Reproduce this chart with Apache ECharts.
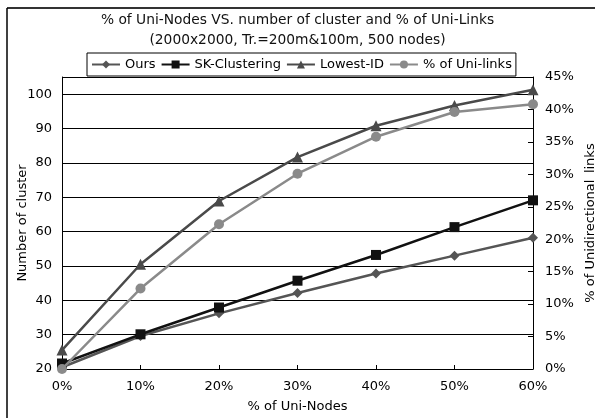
<!DOCTYPE html>
<html>
<head>
<meta charset="utf-8">
<script src="https://cdn.jsdelivr.net/npm/echarts@6/dist/echarts.min.js"></script>
<style>
html,body{margin:0;padding:0;background:#fff;}
#chart{width:595px;height:418px;}
</style>
</head>
<body>
<div id="chart"></div>
<script>
const categories = ['0%','10%','20%','30%','40%','50%','60%'];
const oursValues = [20.5, 29.6, 36.2, 42.1, 47.8, 53.0, 58.2];
const skValues = [21.6, 30.1, 37.9, 45.7, 53.2, 61.3, 69.1];
const lowestIdValues = [25.5, 50.5, 68.9, 81.7, 90.8, 96.7, 101.3];
const uniLinksValues = [0, 12.4, 22.3, 30.1, 35.8, 39.6, 40.8];
const leftTicks = {min: 20, max: 105, interval: 10};
const rightTicks = {min: 0, max: 45, interval: 5};

const FONT = 'DejaVu Sans';
const chart = echarts.init(document.getElementById('chart'), null, {renderer: 'canvas'});

function lineSeries(name, data, color, symbol, size, yAxisIndex, z) {
  return {
    name, type: 'line', data, yAxisIndex, z,
    symbol, symbolSize: size, showSymbol: true,
    lineStyle: {color, width: 2.5},
    itemStyle: {color, borderWidth: 0},
    emphasis: {disabled: true},
    animation: false
  };
}

chart.setOption({
  animation: false,
  backgroundColor: '#fff',
  textStyle: {fontFamily: FONT, color: '#000'},
  title: {
    text: '% of Uni-Nodes VS. number of cluster and % of Uni-Links\n(2000x2000, Tr.=200m&100m, 500 nodes)',
    left: 'center',
    top: 5,
    textStyle: {fontFamily: FONT, fontSize: 13.8, fontWeight: 'normal', color: '#111', lineHeight: 20}
  },
  legend: {
    left: 87, top: 53,
    padding: [5, 4, 5, 4],
    itemGap: 5,
    itemWidth: 28, itemHeight: 10,
    borderColor: '#000', borderWidth: 1,
    textStyle: {fontFamily: FONT, fontSize: 13, color: '#000'},
    data: ['Ours', 'SK-Clustering', 'Lowest-ID', '% of Uni-links']
  },
  grid: {left: 62, right: 62, top: 77, bottom: 49, containLabel: false, outerBoundsMode: 'none'},
  xAxis: {
    type: 'category', data: categories, boundaryGap: false,
    name: '% of Uni-Nodes', nameLocation: 'middle', nameGap: 31, nameMoveOverlap: false,
    nameTextStyle: {fontFamily: FONT, fontSize: 13, color: '#000'},
    axisLine: {lineStyle: {color: '#000', width: 1}},
    axisTick: {inside: true, length: 4, alignWithLabel: true, lineStyle: {color: '#000'}},
    axisLabel: {fontFamily: FONT, fontSize: 13, color: '#000', margin: 11},
    splitLine: {show: false}
  },
  yAxis: [
    {
      type: 'value', min: leftTicks.min, max: leftTicks.max, interval: leftTicks.interval,
      position: 'left',
      name: 'Number of cluster', nameLocation: 'middle', nameGap: 33, nameMoveOverlap: false,
      nameTextStyle: {fontFamily: FONT, fontSize: 13, color: '#000'},
      axisLine: {show: true, lineStyle: {color: '#000', width: 1}},
      axisTick: {show: false},
      axisLabel: {fontFamily: FONT, fontSize: 13, color: '#000', margin: 10, showMaxLabel: false},
      splitLine: {show: true, lineStyle: {color: '#000', width: 1}}
    },
    {
      type: 'value', min: rightTicks.min, max: rightTicks.max, interval: rightTicks.interval,
      position: 'right',
      name: '% of Unidirectional_links', nameLocation: 'middle', nameGap: 51, nameRotate: 90, nameMoveOverlap: false,
      nameTextStyle: {fontFamily: FONT, fontSize: 13, color: '#000'},
      axisLine: {show: true, lineStyle: {color: '#000', width: 1}},
      axisTick: {show: true, inside: true, length: 5, lineStyle: {color: '#000'}},
      axisLabel: {fontFamily: FONT, fontSize: 13, color: '#000', margin: 12, formatter: '{value}%'},
      splitLine: {show: false}
    }
  ],
  series: [
    lineSeries('Ours', oursValues, '#555555', 'diamond', 10, 0, 3),
    lineSeries('SK-Clustering', skValues, '#111111', 'rect', 10, 0, 4),
    lineSeries('Lowest-ID', lowestIdValues, '#4a4a4a', 'triangle', 11, 0, 2),
    lineSeries('% of Uni-links', uniLinksValues, '#8a8a8a', 'circle', 10, 1, 5)
  ],
  graphic: [
    {type: 'line', shape: {x1: 7, y1: 8, x2: 595, y2: 8}, style: {stroke: '#333', lineWidth: 2}, z: 100},
    {type: 'line', shape: {x1: 7, y1: 8, x2: 7, y2: 418}, style: {stroke: '#000', lineWidth: 1.5}, z: 100}
  ]
});
</script>
</body>
</html>
